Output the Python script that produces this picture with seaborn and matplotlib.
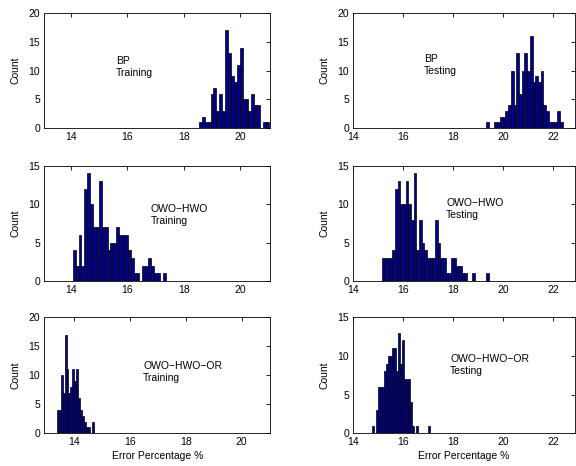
import numpy as np
import pandas as pd
import seaborn as sns
import matplotlib
matplotlib.use("Agg")
import matplotlib.pyplot as plt

# ---------------- data ----------------
bp_train_start, bp_train_width = 18.54, 0.1035
bp_train_counts = [1, 2, 1, 1, 6, 7, 3, 6, 3, 17, 13, 9, 8, 11, 14, 5, 5, 3, 6, 4, 4, 0, 1, 1]

bp_test_start, bp_test_width = 19.32, 0.109
bp_test_counts = [1, 0, 0, 1, 1, 2, 2, 3, 4, 10, 4, 13, 6, 10, 13, 10, 16, 8, 9, 8, 10, 4, 3, 1, 1, 1, 3, 1]

owo_train_start, owo_train_width = 14.06, 0.103
owo_train_counts = [4, 2, 6, 2, 12, 14, 10, 7, 7, 13, 7, 7, 4, 5, 5, 7, 6, 6, 6, 4, 3, 1, 1, 0,
                    2, 2, 3, 2, 1, 1, 0, 1]

owo_test_start, owo_test_width = 15.13, 0.107
owo_test_counts = [3, 3, 3, 3, 4, 12, 13, 10, 10, 13, 10, 8, 14, 4, 8, 5, 4, 3, 3, 3, 8, 5, 3, 3,
                   1, 1, 3, 3, 2, 2, 1, 1, 0, 0, 1, 0, 0, 0, 0, 1]

owoor_train_start, owoor_train_width = 13.36, 0.071
owoor_train_counts = [4, 4, 10, 7, 17, 11, 7, 8, 11, 9, 11, 6, 4, 3, 2, 1, 1, 0, 2]

owoor_test_start, owoor_test_width = 14.73, 0.08
owoor_test_counts = [1, 0, 3, 6, 6, 6, 8, 9, 10, 10, 11, 11, 8, 13, 9, 12, 7, 7, 7, 4, 1, 0, 1,
                     0, 0, 0, 0, 0, 1]

labels = ["BP\nTraining", "BP\nTesting",
          "OWO\u2212HWO\nTraining", "OWO\u2212HWO\nTesting",
          "OWO\u2212HWO\u2212OR\nTraining", "OWO\u2212HWO\u2212OR\nTesting"]
xlabel_text = "Error Percentage %"
ylabel_text = "Count"

# ---------------- style ----------------
sns.set_style("white")
plt.rcParams["font.family"] = ["Liberation Sans", "DejaVu Sans"]
plt.rcParams["font.size"] = 7.5
plt.rcParams["text.color"] = "black"
plt.rcParams["axes.labelcolor"] = "black"
plt.rcParams["xtick.color"] = "black"
plt.rcParams["ytick.color"] = "black"

face = "#00008f"

fig = plt.figure(figsize=(5.76, 4.66), dpi=100)

left_l, left_w = 0.077, 0.392
right_l, right_w = 0.6134, 0.384
rows = [(0.7253, 0.2468), (0.397, 0.2474), (0.0702, 0.249)]

panels = [
    (bp_train_start, bp_train_width, bp_train_counts, labels[0], (15.6, 10.6),
     (left_l, rows[0][0], left_w, rows[0][1]), (13.05, 21.07), (0, 20), [14, 16, 18, 20], [0, 5, 10, 15, 20]),
    (bp_test_start, bp_test_width, bp_test_counts, labels[1], (16.84, 10.9),
     (right_l, rows[0][0], right_w, rows[0][1]), (14.0, 22.85), (0, 20), [14, 16, 18, 20, 22], [0, 5, 10, 15, 20]),
    (owo_train_start, owo_train_width, owo_train_counts, labels[2], (16.83, 8.6),
     (left_l, rows[1][0], left_w, rows[1][1]), (13.05, 21.07), (0, 15), [14, 16, 18, 20], [0, 5, 10, 15]),
    (owo_test_start, owo_test_width, owo_test_counts, labels[3], (17.71, 9.35),
     (right_l, rows[1][0], right_w, rows[1][1]), (14.0, 22.85), (0, 15), [14, 16, 18, 20, 22], [0, 5, 10, 15]),
    (owoor_train_start, owoor_train_width, owoor_train_counts, labels[4], (16.46, 10.55),
     (left_l, rows[2][0], left_w, rows[2][1]), (12.92, 21.02), (0, 20), [14, 16, 18, 20], [0, 5, 10, 15, 20]),
    (owoor_test_start, owoor_test_width, owoor_test_counts, labels[5], (17.87, 8.85),
     (right_l, rows[2][0], right_w, rows[2][1]), (14.0, 22.85), (0, 15), [14, 16, 18, 20, 22], [0, 5, 10, 15]),
]

for idx, (start, width, counts, lab, txy, rect, xl, yl, xt, yt) in enumerate(panels):
    ax = fig.add_axes(rect)
    counts = np.asarray(counts, dtype=float)
    n = len(counts)
    centers = start + width * (np.arange(n) + 0.5)
    df = pd.DataFrame({"err": centers, "n": counts})
    sns.histplot(data=df, x="err", weights="n", bins=n,
                 binrange=(start, start + n * width), ax=ax,
                 color=face, edgecolor="black", linewidth=0.5, alpha=1.0)
    ax.set_xlim(*xl)
    ax.set_ylim(*yl)
    ax.set_xticks(xt)
    ax.set_yticks(yt)
    ax.tick_params(direction="in", top=True, right=True, length=3, width=0.6,
                   labelsize=7.5, pad=3, colors="black")
    for s in ax.spines.values():
        s.set_visible(True)
        s.set_color("black")
        s.set_linewidth(0.6)
    ax.set_ylabel(ylabel_text, fontsize=7.5, color="black")
    axw = rect[2] * 576
    ax.yaxis.set_label_coords(-23.6 / axw, 0.5)
    if idx >= 4:
        ax.set_xlabel(xlabel_text, fontsize=7.5, color="black")
        ax.xaxis.set_label_coords(0.5, -0.2)
        ax.xaxis.label.set_va("center")
    else:
        ax.set_xlabel("")
    ax.text(txy[0], txy[1], lab, ha="left", va="center", fontsize=7.5,
            linespacing=1.25, color="black")

fig.savefig("out.png", dpi=100)
